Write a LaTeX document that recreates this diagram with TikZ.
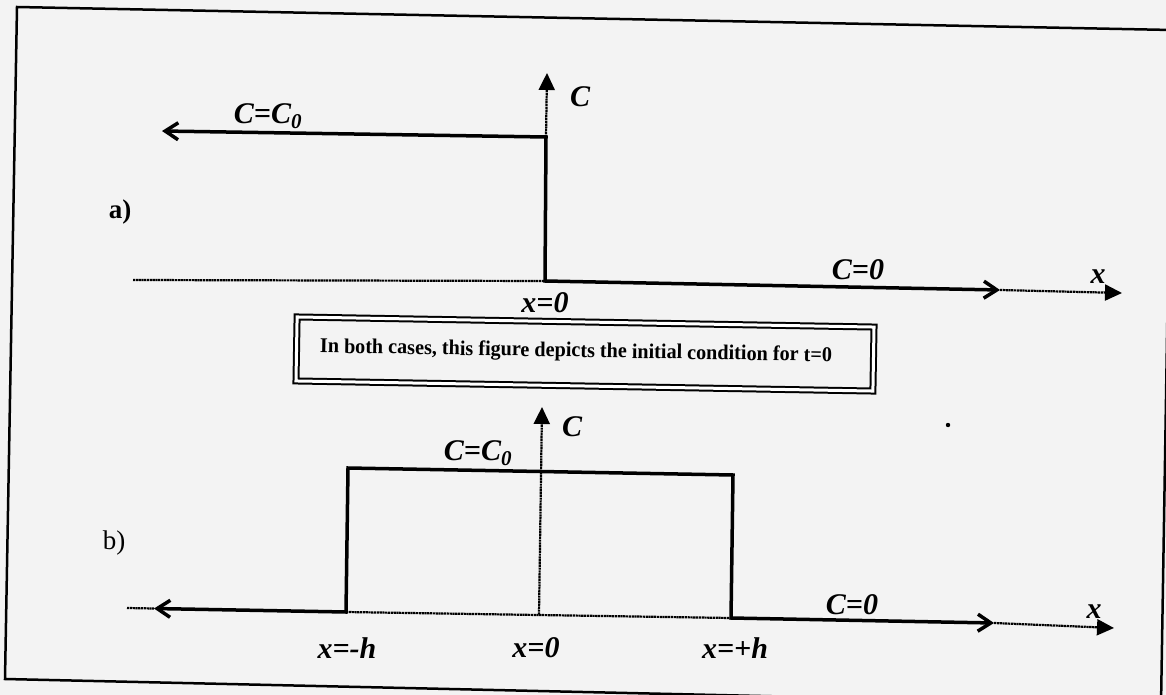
\documentclass[tikz,border=0pt]{standalone}
\usepackage{fontspec}
\usepackage{graphicx}
\setmainfont{Liberation Serif}
\usetikzlibrary{arrows.meta}
\definecolor{bg}{RGB}{243,243,243}
\begin{document}
\begin{tikzpicture}[x=1pt,y=-1pt,
  thk/.style={line width=3.5pt, line join=miter},
  thn/.style={line width=2.2pt, dash pattern=on 2.2pt off 0.6pt},
  barbs/.style={{Straight Barb[length=13pt,width=17pt]}-{Straight Barb[length=13pt,width=17pt]}},
  tri/.style={-{Triangle[length=17pt,width=16pt]}},
  lbl/.style={font=\fontsize{30}{36}\selectfont\bfseries\itshape, inner sep=0pt},
  tag/.style={font=\fontsize{27}{30}\selectfont, inner sep=0pt},
  framestyle/.style={line width=2.5pt}
]
\useasboundingbox (0,0) rectangle (1166,695);
\fill[bg] (0,0) rectangle (1166,695);

% outer frame (slightly skewed like the scan)
\coordinate (f1) at (17,7);
\coordinate (f2) at (1172,30);
\coordinate (f3) at (1161,705);
\coordinate (f4) at (5,679);
\draw[framestyle] (f1) -- (f2) -- (f3) -- (f4) -- cycle;

% ---------- a) ----------
\coordinate (aL) at (133,280);
\coordinate (aO) at (545,281);
\coordinate (aR) at (1000,290);
\coordinate (aE) at (1122,293);
\coordinate (aK) at (546,137);
\coordinate (aT) at (547,73);
\coordinate (aW) at (162,131);

\draw[thn] (aL) -- (aO);
\draw[thn,tri] (aR) -- (aE);
\draw[thn,tri] (aK) -- (aT);
\draw[thk,barbs] (aW) -- (aK) -- (aO) -- (aR);

\node[lbl] (aC0) at (268,116) {C=C\textsubscript{0}};
\node[lbl] (aClab) at (580,97) {C};
\node[tag,font=\fontsize{27}{30}\selectfont\bfseries] (atag) at (120,212) {a)};
\node[lbl] (ax0) at (545,303) {x=0};
\node[lbl] (aCz) at (858,270) {C=0};
\node[lbl] (axl) at (1098,277) {x};

% ---------- caption box ----------
\node[draw, double, line width=2pt, double distance=3pt, minimum width=577pt,
      minimum height=64pt, rotate=-1, inner sep=0pt] (capbox) at (585,354) {};
\node[rotate=-1, inner sep=0pt, font=\fontsize{21}{24}\selectfont\bfseries] (captext) at (576,352)
  {\resizebox{512pt}{\height}{In both cases, this figure depicts the initial condition for t=0}};

% ---------- b) ----------
\coordinate (bS) at (127,608);
\coordinate (bW) at (154,608.5);
\coordinate (bA) at (346,612);
\coordinate (bB) at (348,468);
\coordinate (bC) at (733,475);
\coordinate (bD) at (731,618);
\coordinate (bE) at (994,623);
\coordinate (bF) at (1114,628);
\coordinate (bO) at (539,614.5);
\coordinate (bT) at (542,407);

\draw[thn] (bS) -- (bW);
\draw[thn] (bA) -- (bD);
\draw[thn,tri] (bE) -- (bF);
\draw[thn,tri] (bO) -- (bT);
\draw[thk,barbs] (bW) -- (bA) -- (bB) -- (bC) -- (bD) -- (bE);

\node[lbl] (bC0) at (478,453) {C=C\textsubscript{0}};
\node[lbl] (bClab) at (572,427) {C};
\node[tag] (btag) at (114,543) {b)};
\node[lbl] (bxm) at (347,648) {x=-h};
\node[lbl] (bx0) at (536,648) {x=0};
\node[lbl] (bxp) at (735,648) {x=+h};
\node[lbl] (bCz) at (852,605) {C=0};
\node[lbl] (bxl) at (1094,612) {x};

% small speck visible in the scan
\fill (948,425) circle (2.2pt);
\end{tikzpicture}
\end{document}
